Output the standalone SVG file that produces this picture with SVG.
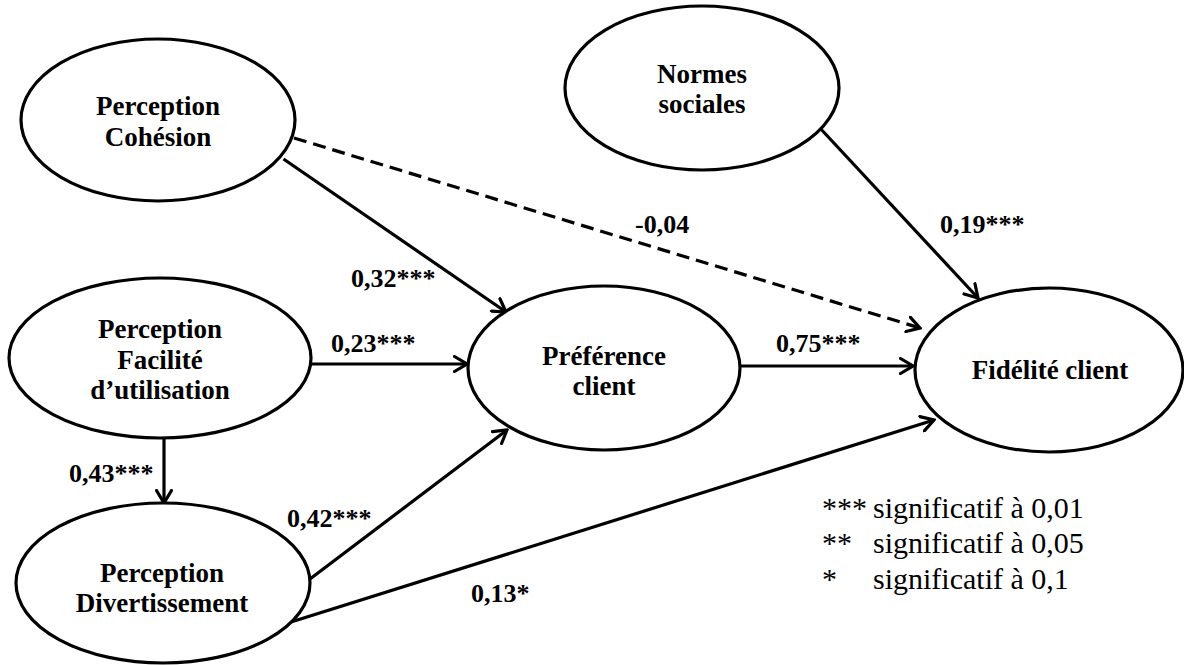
<svg xmlns="http://www.w3.org/2000/svg" width="1184" height="665" viewBox="0 0 1184 665">
<style>
.node ellipse{fill:#fff;stroke:#000;stroke-width:3.2}
.node text{font-family:"Liberation Serif","Times New Roman",serif;font-weight:bold;font-size:27px;fill:#000;text-anchor:middle}
.conn line{stroke:#000;stroke-width:3.2;fill:none;marker-end:url(#arr)}
.conn .dash{stroke-dasharray:13,7}
.lbl{font-family:"Liberation Serif","Times New Roman",serif;font-weight:bold;font-size:26px;fill:#000}
.leg{font-family:"Liberation Serif","Times New Roman",serif;font-size:30px;fill:#000}
</style>
<defs>
<marker id="arr" viewBox="0 0 16 18" refX="14" refY="9" markerWidth="16" markerHeight="18" markerUnits="userSpaceOnUse" orient="auto">
<path d="M1.5,1.5 L14,9 L1.5,16.5" fill="none" stroke="#000" stroke-width="3.2" stroke-linecap="round" stroke-linejoin="miter"/>
</marker>
</defs>
<rect width="1184" height="665" fill="#fff"/>
<g id="connectors" class="conn">
<line x1="283.5" y1="159" x2="506" y2="312"/>
<line class="dash" x1="294" y1="138" x2="920" y2="328"/>
<line x1="311" y1="364" x2="467" y2="364"/>
<line x1="164" y1="439" x2="164" y2="503"/>
<line x1="306" y1="582" x2="507" y2="430"/>
<line x1="291" y1="622" x2="934" y2="420"/>
<line x1="740" y1="366" x2="913" y2="366"/>
<line x1="819" y1="127" x2="978" y2="298"/>
</g>
<g id="node-cohesion" class="node">
<ellipse cx="158" cy="120" rx="137" ry="81"/>
<text x="158" y="115">Perception</text>
<text x="158" y="146">Cohésion</text>
</g>
<g id="node-normes" class="node">
<ellipse cx="702" cy="88" rx="137" ry="82"/>
<text x="702" y="83">Normes</text>
<text x="702" y="113">sociales</text>
</g>
<g id="node-facilite" class="node">
<ellipse cx="160" cy="358" rx="151" ry="80"/>
<text x="160" y="338">Perception</text>
<text x="160" y="369">Facilité</text>
<text x="160" y="399">d’utilisation</text>
</g>
<g id="node-divertissement" class="node">
<ellipse cx="163" cy="583" rx="147" ry="80"/>
<text x="162" y="582">Perception</text>
<text x="162" y="612">Divertissement</text>
</g>
<g id="node-preference" class="node">
<ellipse cx="604" cy="368" rx="136" ry="82"/>
<text x="604" y="365">Préférence</text>
<text x="604" y="395">client</text>
</g>
<g id="node-fidelite" class="node">
<ellipse cx="1049" cy="370" rx="134" ry="82"/>
<text x="1050" y="379">Fidélité client</text>
</g>
<g id="labels">
<text class="lbl" x="351" y="287">0,32***</text>
<text class="lbl" x="635" y="233">-0,04</text>
<text class="lbl" x="940" y="233">0,19***</text>
<text class="lbl" x="331" y="352">0,23***</text>
<text class="lbl" x="776" y="352">0,75***</text>
<text class="lbl" x="69" y="482">0,43***</text>
<text class="lbl" x="287" y="527">0,42***</text>
<text class="lbl" x="471" y="602">0,13*</text>
</g>
<g id="legend">
<text class="leg" x="822" y="518">***</text>
<text class="leg" x="873" y="518">significatif à 0,01</text>
<text class="leg" x="822" y="553">**</text>
<text class="leg" x="873" y="553">significatif à 0,05</text>
<text class="leg" x="822" y="589">*</text>
<text class="leg" x="873" y="589">significatif à 0,1</text>
</g>
</svg>
